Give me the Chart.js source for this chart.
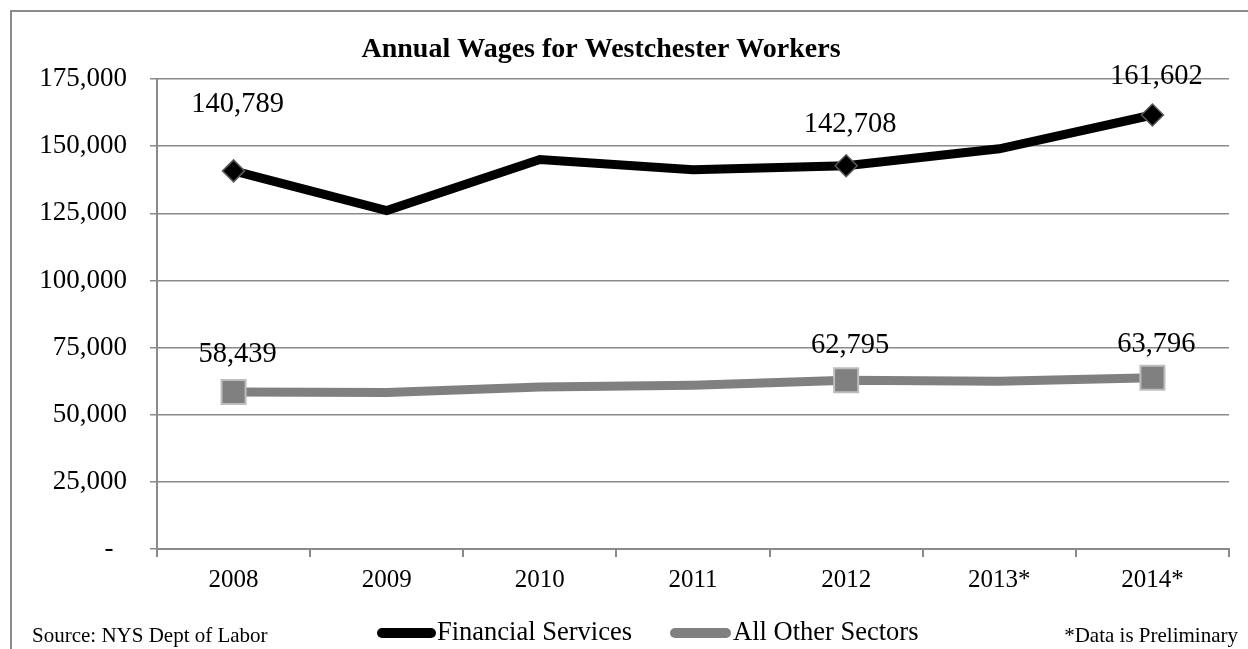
<!DOCTYPE html>
<html>
<head>
<meta charset="utf-8">
<script src="https://cdn.jsdelivr.net/npm/chart.js@4.4.1/dist/chart.umd.min.js"></script>
<style>
  html, body { margin: 0; padding: 0; background: #fff; }
  #wrap { width: 1248px; height: 649px; }
</style>
</head>
<body>
<div id="wrap"><canvas id="wages" width="1248" height="649"></canvas></div>
<script>
const years = ['2008', '2009', '2010', '2011', '2012', '2013*', '2014*'];
const financial = [140789, 126000, 145000, 141200, 142708, 149000, 161602];
const otherSectors = [58439, 58300, 60300, 61000, 62795, 62500, 63796];
const yTicks = [0, 25000, 50000, 75000, 100000, 125000, 150000, 175000];
const labelled = [0, 4, 6]; // points that carry a marker and value label

const SERIF = '"Liberation Serif", "Times New Roman", serif';
const GRID = '#8a8a8a';

// accounting style: zero shows as a dash padded on the right
const fmt = v => v === 0 ? '-  ' : v.toLocaleString('en-US');
const markerSize = (r) => years.map((_, i) => labelled.includes(i) ? r : 0);

// value labels, lifted above the point (px)
const labelLift = { 0: [66, 38], 4: [41, 35], 6: [38, 33] };

const valueLabels = {
    id: 'valueLabels',
    afterDatasetsDraw(chart) {
        const ctx = chart.ctx;
        ctx.save();
        ctx.font = '28.5px ' + SERIF;
        ctx.fillStyle = '#000';
        ctx.textAlign = 'center';
        ctx.textBaseline = 'middle';
        chart.data.datasets.forEach((ds, di) => {
            const meta = chart.getDatasetMeta(di);
            labelled.forEach(i => {
                const pt = meta.data[i];
                ctx.fillText(fmt(ds.data[i]), pt.x + 4, pt.y - labelLift[i][di]);
            });
        });
        ctx.restore();
    }
};

const frame = {
    id: 'frame',
    beforeDraw(chart) {
        const ctx = chart.ctx;
        ctx.save();
        ctx.fillStyle = '#fff';
        ctx.fillRect(0, 0, chart.width, chart.height);
        ctx.strokeStyle = '#8c8c8c';
        ctx.lineWidth = 2;
        ctx.beginPath();
        ctx.moveTo(11, chart.height);
        ctx.lineTo(11, 11);
        ctx.lineTo(chart.width, 11);
        ctx.stroke();
        ctx.restore();
    },
    afterDraw(chart) {
        const ctx = chart.ctx;
        ctx.save();
        ctx.fillStyle = '#000';
        ctx.textBaseline = 'middle';

        ctx.font = 'bold 28px ' + SERIF;
        ctx.textAlign = 'center';
        ctx.fillText('Annual Wages for Westchester Workers', 601, 50);

        ctx.font = '21px ' + SERIF;
        ctx.textAlign = 'left';
        ctx.fillText('Source: NYS Dept of Labor', 32, 636);
        ctx.textAlign = 'right';
        ctx.fillText('*Data is Preliminary', 1238, 636);

        // legend
        const legendY = 633;
        const items = [
            { text: 'Financial Services', color: '#000', x0: 382, x1: 431, tx: 437 },
            { text: 'All Other Sectors', color: '#808080', x0: 675, x1: 726, tx: 733 }
        ];
        ctx.font = '26.5px ' + SERIF;
        ctx.textAlign = 'left';
        items.forEach(it => {
            ctx.strokeStyle = it.color;
            ctx.lineWidth = 10;
            ctx.lineCap = 'round';
            ctx.beginPath();
            ctx.moveTo(it.x0, legendY);
            ctx.lineTo(it.x1, legendY);
            ctx.stroke();
            ctx.fillStyle = '#000';
            ctx.fillText(it.text, it.tx, legendY);
        });
        ctx.restore();
    }
};

new Chart(document.getElementById('wages'), {
    type: 'line',
    data: {
        labels: years,
        datasets: [
            {
                label: 'Financial Services',
                data: financial,
                borderColor: '#000',
                borderWidth: 9,
                tension: 0,
                pointStyle: 'rectRot',
                pointRadius: markerSize(11),
                pointBackgroundColor: '#000',
                pointBorderColor: '#5a5a5a',
                pointBorderWidth: 1.5
            },
            {
                label: 'All Other Sectors',
                data: otherSectors,
                borderColor: '#808080',
                borderWidth: 9,
                tension: 0,
                pointStyle: 'rect',
                pointRadius: markerSize(17),
                pointBackgroundColor: '#808080',
                pointBorderColor: '#bdbdbd',
                pointBorderWidth: 2
            }
        ]
    },
    options: {
        responsive: false,
        animation: false,
        events: [],
        layout: { padding: { top: 79, right: 17, left: 0, bottom: 0 } },
        plugins: {
            legend: { display: false },
            title: { display: false },
            tooltip: { enabled: false }
        },
        scales: {
            x: {
                offset: true,
                afterFit: s => { s.height = 100; },
                border: { color: GRID, width: 2 },
                grid: { offset: true, drawOnChartArea: false, color: GRID, lineWidth: 2, tickLength: 8 },
                ticks: { color: '#000', padding: 8, font: { family: SERIF, size: 25 } }
            },
            y: {
                min: 0,
                max: 175000,
                afterFit: s => { s.width = 157; },
                afterBuildTicks: s => { s.ticks = yTicks.map(v => ({ value: v })); },
                border: { color: GRID, width: 2 },
                grid: { color: GRID, lineWidth: 1.5, tickLength: 7 },
                ticks: { color: '#000', padding: 23, font: { family: SERIF, size: 27 }, callback: v => fmt(v) }
            }
        }
    },
    plugins: [frame, valueLabels]
});
</script>
</body>
</html>
